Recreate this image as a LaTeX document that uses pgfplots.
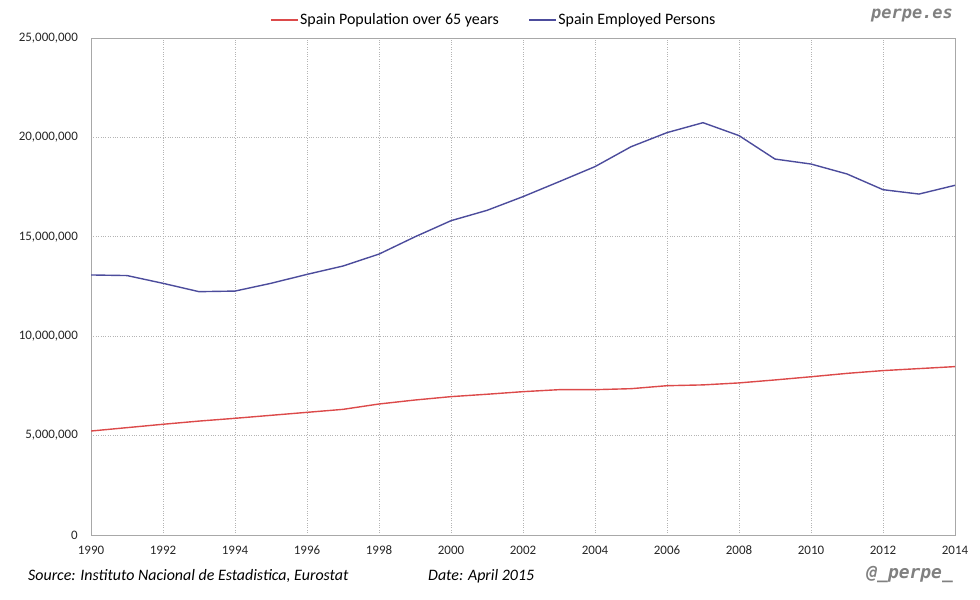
\documentclass[border=0pt]{standalone}
\usepackage{fontspec}
\setmainfont{Carlito}
\newfontfamily\monof{DejaVu Sans Mono}
\usepackage{pgfplots}
\pgfplotsset{compat=1.18}
\definecolor{popred}{HTML}{DC4A4A}
\definecolor{empblue}{HTML}{4C4C9C}
\definecolor{gridgray}{HTML}{B4B4B4}
\definecolor{framegray}{HTML}{A8A8A8}
\definecolor{wmgray}{HTML}{808080}
\begin{document}
\begin{tikzpicture}
\path[use as bounding box] (0,0) rectangle (980bp,600bp);
\begin{axis}[
    at={(91bp,65bp)}, anchor=south west,
    scale only axis, width=864bp, height=497bp,
    xmin=1990, xmax=2014, ymin=0, ymax=25000000,
    xtick={1990,1992,...,2014},
    ytick={0,5000000,10000000,15000000,20000000,25000000},
    scaled y ticks=false,
    /pgf/number format/assume math mode=true,
    yticklabel style={/pgf/number format/fixed, /pgf/number format/1000 sep={,},
        anchor=east, inner sep=0pt, xshift=-13bp},
    xticklabel style={/pgf/number format/1000 sep={}, anchor=north, inner sep=0pt,
        text height=9.5bp, text depth=0bp, yshift=-10bp},
    ticklabel style={font=\fontsize{13}{15}\selectfont, text=black!85},
    major tick length=0pt,
    grid=major,
    major grid style={gridgray, dotted, line width=0.8bp},
    axis line style={framegray, line width=0.9bp},
    legend style={draw=none, fill=none, at={(0.466,1.036)}, anchor=center,
        font=\fontsize{16}{18}\selectfont, nodes={inner xsep=1.5bp},
        /tikz/every even column/.append style={column sep=28bp}},
    legend columns=2,
    legend image code/.code={\draw[#1] (0bp,0bp) -- (27bp,0bp);},
]
\addplot[popred, line width=1.4bp] coordinates {
(1990,5230000) (1991,5400000) (1992,5570000) (1993,5730000) (1994,5870000)
(1995,6020000) (1996,6170000) (1997,6320000) (1998,6590000) (1999,6790000)
(2000,6960000) (2001,7080000) (2002,7210000) (2003,7310000) (2004,7310000)
(2005,7360000) (2006,7510000) (2007,7550000) (2008,7650000) (2009,7800000)
(2010,7960000) (2011,8130000) (2012,8270000) (2013,8370000) (2014,8470000)
};
\addlegendentry{Spain Population over 65 years}
\addplot[empblue, line width=1.4bp] coordinates {
(1990,13080000) (1991,13050000) (1992,12660000) (1993,12240000) (1994,12270000)
(1995,12660000) (1996,13110000) (1997,13530000) (1998,14130000) (1999,15000000)
(2000,15810000) (2001,16330000) (2002,17020000) (2003,17770000) (2004,18530000)
(2005,19530000) (2006,20240000) (2007,20740000) (2008,20090000) (2009,18910000)
(2010,18660000) (2011,18160000) (2012,17370000) (2013,17150000) (2014,17590000)
};
\addlegendentry{Spain Employed Persons}
\end{axis}
\node[anchor=west, inner sep=0pt, font=\fontsize{16}{18}\selectfont\itshape] at (28bp,24bp)
    {Source: Instituto Nacional de Estadistica, Eurostat};
\node[anchor=west, inner sep=0pt, font=\fontsize{16}{18}\selectfont\itshape] at (428bp,24bp)
    {Date: April 2015};
\node[anchor=east, inner sep=0pt, text=wmgray, font=\fontsize{18}{20}\selectfont\monof\bfseries\itshape] at (953bp,25bp)
    {@\_perpe\_};
\node[anchor=east, inner sep=0pt, text=wmgray, font=\fontsize{17}{19}\selectfont\monof\bfseries\itshape] at (953bp,584bp)
    {perpe.es};
\end{tikzpicture}
\end{document}
